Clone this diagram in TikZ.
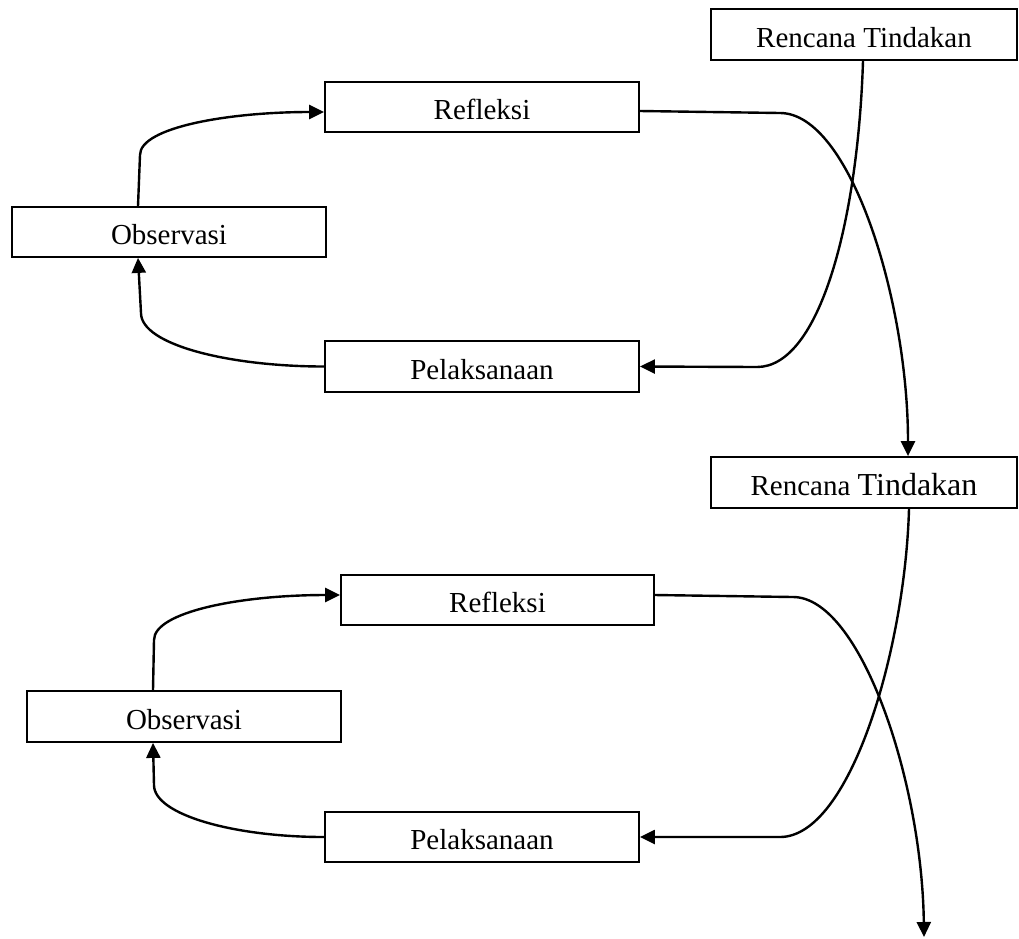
\documentclass[tikz,border=0pt]{standalone}
\usepackage{fontspec}
\setmainfont{Liberation Serif}
\usetikzlibrary{arrows.meta}
\begin{document}
\begin{tikzpicture}[x=1pt,y=-1pt,
  box/.style={draw,line width=1.8pt,minimum width=314pt,minimum height=50pt,inner sep=0pt,
    font=\fontsize{29}{34}\selectfont,text height=25pt,text depth=0pt},
  conn/.style={line width=2.4pt},
  arr/.style={conn,-{Triangle[length=15pt,width=14pt]}}]
\useasboundingbox (0,0) rectangle (1019,938);
\node[box,minimum width=306pt,minimum height=51pt] (ren1) at (864,34.5) {Rencana Tindakan};
\node[box] (ref1) at (482,107) {Refleksi};
\node[box] (obs1) at (169,232) {Observasi};
\node[box,minimum height=51pt] (pel1) at (482,366.5) {Pelaksanaan};
\node[box,minimum width=306pt,minimum height=51pt] (ren2) at (864,482.5) {Rencana {\fontsize{32}{36}\selectfont Tindakan}};
\node[box,minimum width=313pt] (ref2) at (497.5,600) {Refleksi};
\node[box,minimum height=51pt] (obs2) at (184,716.5) {Observasi};
\node[box] (pel2) at (482,837) {Pelaksanaan};
\coordinate (end) at (924,937);

\draw[arr] ([xshift=-31pt]obs1.north) -- (140,155) .. controls (140,127) and (230,112) .. ([yshift=-5pt]ref1.west);
\draw[arr] (pel1.west) .. controls (230,366.5) and (141,345) .. (141,313) -- ([xshift=-31pt]obs1.south);
\draw[arr] ([xshift=-1pt]ren1.south) .. controls (858,220) and (820,367) .. (757,367) -- (pel1.east);
\draw[arr] ([yshift=-4pt]ref1.east) -- (780,113) .. controls (850,113) and (908,300) .. ([xshift=44pt]ren2.north);
\draw[arr] ([xshift=45pt]ren2.south) .. controls (905,650) and (850,837) .. (780,837) -- (pel2.east);
\draw[arr] ([yshift=5pt]ref2.east) -- (793,597) .. controls (860,597) and (922,780) .. (end);
\draw[arr] ([xshift=-31pt]obs2.north) -- (154,640) .. controls (154,612) and (240,595) .. ([yshift=5pt]ref2.west);
\draw[arr] (pel2.west) .. controls (235,837) and (154,815) .. (154,785) -- ([xshift=-31pt]obs2.south);
\end{tikzpicture}
\end{document}
